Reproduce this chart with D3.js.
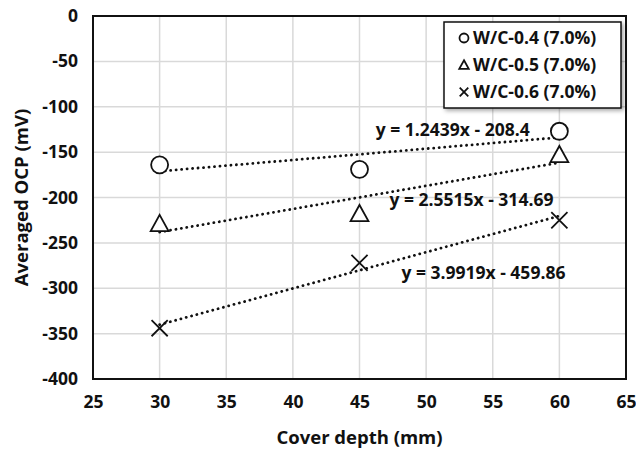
<!DOCTYPE html>
<html>
<head>
<meta charset="utf-8">
<script src="https://cdn.jsdelivr.net/npm/d3@7"></script>
<style>
  body { margin: 0; background: #fff; }
  text { font-family: "Open Sans", "Liberation Sans", sans-serif; font-weight: bold; fill: #111; }
</style>
</head>
<body>
<div class="chart"></div>
<script>
// chart size
var svgWidth = 636;
var svgHeight = 450;

var margin = { top: 16, right: 10, bottom: 71, left: 93 };
var chartWidth = svgWidth - margin.left - margin.right;
var chartHeight = svgHeight - margin.top - margin.bottom;

// data
var coverDepth = [30, 45, 60];
var seriesNames = ["W/C-0.4 (7.0%)", "W/C-0.5 (7.0%)", "W/C-0.6 (7.0%)"];
var seriesMarkers = ["circle", "triangle", "cross"];
var ocpWC04 = [-164, -169, -127];
var ocpWC05 = [-229, -218, -153];
var ocpWC06 = [-344, -272, -225];
var trendSlope = [1.2439, 2.5515, 3.9919];
var trendIntercept = [-208.4, -314.69, -459.86];
var trendLabels = ["y = 1.2439x - 208.4", "y = 2.5515x - 314.69", "y = 3.9919x - 459.86"];
var xTicks = [25, 30, 35, 40, 45, 50, 55, 60, 65];
var yTicks = [0, -50, -100, -150, -200, -250, -300, -350, -400];

var seriesValues = [ocpWC04, ocpWC05, ocpWC06];

var svg = d3.select(".chart")
  .append("svg")
  .attr("width", svgWidth)
  .attr("height", svgHeight);

var chartGroup = svg.append("g")
  .attr("transform", `translate(${margin.left}, ${margin.top})`);

var xScale = d3.scaleLinear().domain([25, 65]).range([0, chartWidth]);
var yScale = d3.scaleLinear().domain([-400, 0]).range([chartHeight, 0]);

/*************grid******************/
chartGroup.append("g")
  .selectAll("line")
  .data(xTicks)
  .enter()
  .append("line")
  .attr("x1", d => xScale(d))
  .attr("x2", d => xScale(d))
  .attr("y1", 0)
  .attr("y2", chartHeight)
  .attr("stroke", "#d9d9d9")
  .attr("stroke-width", 1.5);

chartGroup.append("g")
  .selectAll("line")
  .data(yTicks)
  .enter()
  .append("line")
  .attr("x1", 0)
  .attr("x2", chartWidth)
  .attr("y1", d => yScale(d))
  .attr("y2", d => yScale(d))
  .attr("stroke", "#d9d9d9")
  .attr("stroke-width", 1.5);

/*************axes******************/
// plain hyphen for negatives, like the original
var xAxis = d3.axisBottom(xScale).tickValues(xTicks).tickFormat(d => String(d)).tickSize(0).tickPadding(17);
var yAxis = d3.axisLeft(yScale).tickValues(yTicks).tickFormat(d => String(d)).tickSize(0).tickPadding(15);

var gx = chartGroup.append("g")
  .attr("class", "x-axis")
  .attr("transform", `translate(0, ${chartHeight})`)
  .call(xAxis);
var gy = chartGroup.append("g")
  .attr("class", "y-axis")
  .call(yAxis);

[gx, gy].forEach(function (g) {
  g.select(".domain").remove();
  g.selectAll("text")
    .style("font-size", "17.5px")
    .style("font-family", "'Open Sans', sans-serif")
    .style("font-weight", "bold")
    .attr("fill", "#111");
});

// plot border
chartGroup.append("rect")
  .attr("x", 0)
  .attr("y", 0)
  .attr("width", chartWidth)
  .attr("height", chartHeight)
  .attr("fill", "none")
  .attr("stroke", "#111")
  .attr("stroke-width", 2);

/*************trend lines******************/
seriesValues.forEach(function (vals, i) {
  var x0 = d3.min(coverDepth), x1 = d3.max(coverDepth);
  chartGroup.append("line")
    .attr("x1", xScale(x0))
    .attr("y1", yScale(trendSlope[i] * x0 + trendIntercept[i]))
    .attr("x2", xScale(x1))
    .attr("y2", yScale(trendSlope[i] * x1 + trendIntercept[i]))
    .attr("stroke", "#111")
    .attr("stroke-width", 2.8)
    .attr("stroke-linecap", "round")
    .attr("stroke-dasharray", "0.1 5.4");
});

/*************markers******************/
function drawMarker(g, type, cx, cy, size) {
  if (type === "circle") {
    g.append("circle")
      .attr("cx", cx).attr("cy", cy).attr("r", size)
      .attr("fill", "#fff").attr("stroke", "#111").attr("stroke-width", 1.8);
  } else if (type === "triangle") {
    var h = size * 1.9;
    var w = size * 1.05;
    g.append("path")
      .attr("d", `M${cx},${cy - h * 0.55} L${cx + w},${cy + h * 0.45} L${cx - w},${cy + h * 0.45} Z`)
      .attr("fill", "#fff").attr("stroke", "#111").attr("stroke-width", 1.8);
  } else {
    var s = size * 0.95;
    g.append("path")
      .attr("d", `M${cx - s},${cy - s} L${cx + s},${cy + s} M${cx - s},${cy + s} L${cx + s},${cy - s}`)
      .attr("stroke", "#111").attr("stroke-width", 1.8).attr("fill", "none");
  }
}

var markerGroup = chartGroup.append("g");
seriesValues.forEach(function (vals, i) {
  vals.forEach(function (v, j) {
    drawMarker(markerGroup, seriesMarkers[i], xScale(coverDepth[j]), yScale(v), 8.5);
  });
});

/*************trend equations******************/
var eqPos = [[52.0, -126], [53.4, -203], [54.3, -283]];
chartGroup.append("g")
  .selectAll("text")
  .data(trendLabels)
  .enter()
  .append("text")
  .attr("x", (d, i) => xScale(eqPos[i][0]))
  .attr("y", (d, i) => yScale(eqPos[i][1]))
  .attr("text-anchor", "middle")
  .attr("dy", "0.35em")
  .style("font-size", "17.5px")
  .text(d => d);

/*************legend******************/
var legend = svg.append("g").attr("transform", "translate(444, 22)");
var defs = svg.append("defs");
var filt = defs.append("filter").attr("id", "shadow").attr("x", "-10%").attr("y", "-10%").attr("width", "130%").attr("height", "130%");
filt.append("feDropShadow").attr("dx", 2).attr("dy", 2).attr("stdDeviation", 2).attr("flood-color", "#000").attr("flood-opacity", 0.35);

legend.append("rect")
  .attr("width", 177)
  .attr("height", 86)
  .attr("fill", "#fff")
  .attr("stroke", "#111")
  .attr("stroke-width", 1.5)
  .attr("filter", "url(#shadow)");

seriesNames.forEach(function (name, i) {
  var cy = 16 + i * 27;
  drawMarker(legend, seriesMarkers[i], 20, cy, 4.5);
  legend.append("text")
    .attr("x", 29)
    .attr("y", cy)
    .attr("dy", "0.36em")
    .style("font-size", "17.5px")
    .text(name);
});

/*************axis titles******************/
svg.append("text")
  .attr("x", margin.left + chartWidth / 2)
  .attr("y", 444)
  .attr("text-anchor", "middle")
  .style("font-size", "18.5px")
  .text("Cover depth (mm)");

svg.append("text")
  .attr("transform", `translate(28, ${margin.top + chartHeight / 2}) rotate(-90)`)
  .attr("text-anchor", "middle")
  .style("font-size", "18.5px")
  .text("Averaged OCP (mV)");
</script>
</body>
</html>
